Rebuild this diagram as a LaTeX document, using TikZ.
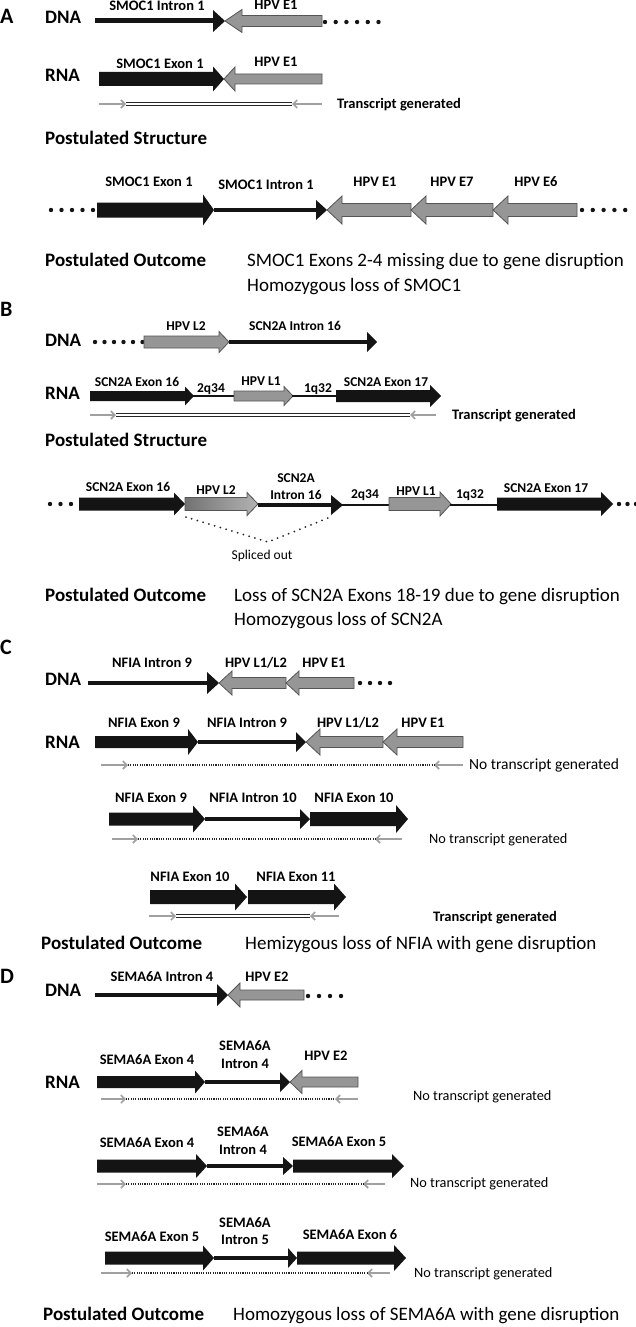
\documentclass[tikz,border=0pt]{standalone}
\usepackage{fontspec}
\setmainfont{Carlito}
\usetikzlibrary{arrows.meta}
\definecolor{hpv}{RGB}{150,150,150}
\definecolor{hpvline}{RGB}{85,85,85}
\definecolor{tgray}{RGB}{160,160,160}
\newcommand{\RArr}[7]{\filldraw[#1] (#2,#4-#5) -- (#3-#7,#4-#5) -- (#3-#7,#4-#6) -- (#3,#4) -- (#3-#7,#4+#6) -- (#3-#7,#4+#5) -- (#2,#4+#5) -- cycle;}
\newcommand{\LArr}[7]{\filldraw[#1] (#2,#4) -- (#2+#7,#4-#6) -- (#2+#7,#4-#5) -- (#3,#4-#5) -- (#3,#4+#5) -- (#2+#7,#4+#5) -- (#2+#7,#4+#6) -- cycle;}
\newcommand{\Intr}[5]{\draw[intron] (#1,#3) -- (#2-#5+0.5,#3); \fill[black!92] (#2-#5,#3-#4) -- (#2,#3) -- (#2-#5,#3+#4) -- cycle;}
\newcommand{\Dots}[4]{\foreach \i in {0,...,#3} {\fill[black!92] (#1+\i*#2,#4) circle (2.2);}}
\newcommand{\Tr}[6]{\draw[tarr] (#1,#5) -- (#2,#5); \draw[tarr] (#4,#5) -- (#3,#5); \draw[#6] (#2,#5) -- (#3,#5);}
\begin{document}
\begin{tikzpicture}[x=1pt,y=-1pt,
 blk/.style={fill=black!92, draw=none},
 hpvs/.style={fill=hpv, draw=hpvline, line width=0.8pt},
 intron/.style={line width=4.5pt, black!92},
 thinl/.style={line width=2pt, black!92},
 tarr/.style={tgray, line width=1.6pt, -{Straight Barb[length=4pt,width=8pt]}},
 dbl/.style={draw=black!85, line width=1.3pt, double=white, double distance=1.6pt},
 dotl/.style={draw=black!85, line width=2pt, dash pattern=on 1.1pt off 1.2pt},
 splice/.style={draw=black!85, line width=2pt, dash pattern=on 0pt off 6pt, line cap=round},
 lab/.style={font=\bfseries\fontsize{14.5}{17}\selectfont, inner sep=0pt, text height=9.2pt, text depth=0pt},
 labs/.style={font=\bfseries\fontsize{13.5}{16}\selectfont, inner sep=0pt, text height=8.6pt, text depth=0pt},
 headt/.style={font=\bfseries\fontsize{19}{23}\selectfont, inner sep=0pt, anchor=west, text height=12pt, text depth=0pt},
 outc/.style={font=\fontsize{19}{23}\selectfont, inner sep=0pt, anchor=west, text height=12pt, text depth=0pt},
 plet/.style={font=\bfseries\fontsize{22}{26}\selectfont, inner sep=0pt, anchor=west, text height=14pt, text depth=0pt},
 ntxt/.style={font=\fontsize{14.3}{17}\selectfont, inner sep=0pt, anchor=west, text height=9.1pt, text depth=0pt},
 ntxtb/.style={font=\bfseries\fontsize{14.5}{17}\selectfont, inner sep=0pt, anchor=west, text height=9.2pt, text depth=0pt}
]
\useasboundingbox (0,0) rectangle (636,1327);
\fill[white] (0,0) rectangle (636,1327);

% ================= Panel A =================
\node[plet] (pA) at (0,17) {A};
\node[headt] (dnaA) at (45,18) {DNA};
\draw[intron, line width=5pt] (95,21) -- (214,21);
\fill[black!92] (213,10) -- (225,21) -- (213,32) -- cycle;
\LArr{hpvs}{225}{322}{21}{5.5}{11.5}{17}
\Dots{325}{10.7}{5}{22}
\node[lab] (a1) at (157,6) {SMOC1 Intron 1};
\node[lab] (a2) at (276,5) {HPV E1};

\node[headt] (rnaA) at (45,76) {RNA};
\RArr{blk}{99}{224}{79}{7}{12.5}{11}
\LArr{hpvs}{224}{322}{79}{5}{12}{11}
\node[lab] (a3) at (160,64) {SMOC1 Exon 1};
\node[lab] (a4) at (276,62) {HPV E1};
\Tr{99}{126}{292}{322}{104}{dbl}
\node[ntxtb] (a5) at (337,104) {Transcript generated};
\node[headt] (psA) at (45,138) {Postulated Structure};

\Dots{51}{10.5}{4}{210}
\RArr{blk}{97}{214}{210}{7.5}{15.5}{11}
\Intr{214}{327}{210}{10}{11}
\LArr{hpvs}{327}{411}{210}{6.5}{14}{15}
\LArr{hpvs}{411}{493}{210}{6.5}{14}{15}
\LArr{hpvs}{493}{577}{210}{6.5}{14}{15}
\Dots{582}{10.8}{4}{210}
\node[lab] (a6) at (149,182) {SMOC1 Exon 1};
\node[lab] (a7) at (266,185) {SMOC1 Intron 1};
\node[lab] (a8) at (375,182) {HPV E1};
\node[lab] (a9) at (452,182) {HPV E7};
\node[lab] (a10) at (536,182) {HPV E6};
\node[headt] (poA) at (45,260) {Postulated Outcome};
\node[outc] (oA1) at (247,260) {SMOC1 Exons 2-4 missing due to gene disruption};
\node[outc] (oA2) at (247,285) {Homozygous loss of SMOC1};

% ================= Panel B =================
\node[plet] (pB) at (0,309) {B};
\node[headt] (dnaB) at (45,340) {DNA};
\Dots{95}{9.5}{5}{342}
\RArr{hpvs}{144}{229}{342}{6}{10.5}{10}
\Intr{229}{377}{342}{10}{10}
\node[labs] (b1) at (186,326) {HPV L2};
\node[labs] (b2) at (295,326) {SCN2A Intron 16};

\node[headt] (rnaB) at (45,393) {RNA};
\RArr{blk}{90}{194}{396}{5}{9.5}{9}
\draw[thinl] (193,396) -- (235,396);
\RArr{hpvs}{234}{293}{396}{5}{9.5}{9}
\draw[thinl] (292,396) -- (337,396);
\RArr{blk}{336}{441}{396}{6}{11}{11}
\node[labs] (b3) at (137,382) {SCN2A Exon 16};
\node[labs] (b4) at (211,388) {2q34};
\node[labs] (b5) at (261,381) {HPV L1};
\node[labs] (b6) at (318,388) {1q32};
\node[labs] (b7) at (386,382) {SCN2A Exon 17};
\Tr{90}{116}{410}{436}{415}{dbl}
\node[ntxtb] (b8) at (452,415) {Transcript generated};
\node[headt] (psB) at (45,440) {Postulated Structure};

\Dots{50}{10.5}{2}{504}
\RArr{blk}{79}{185}{504}{6.5}{11.5}{11}
\RArr{draw=hpvline, line width=0.8pt, left color=black!55, right color=black!30}{185}{258}{504}{6.5}{11.5}{11}
\Intr{258}{343}{505}{10}{12}
\draw[thinl] (342,505) -- (390,505);
\RArr{hpvs}{389}{451}{504}{6.5}{12}{11}
\draw[thinl] (450,505) -- (498,505);
\RArr{blk}{497}{613}{504}{6.5}{12}{12}
\Dots{619}{8.5}{2}{504}
\draw[splice] (186,517) -- (268,542) -- (333,516);
\node[font=\fontsize{13.5}{16}\selectfont, inner sep=0pt] (b9) at (262,556) {Spliced out};
\node[labs] (b10) at (128,487) {SCN2A Exon 16};
\node[labs] (b11) at (216,490) {HPV L2};
\node[labs] (b12) at (296,478) {SCN2A};
\node[labs] (b13) at (296,495) {Intron 16};
\node[labs] (b14) at (365,494) {2q34};
\node[labs] (b15) at (416,491) {HPV L1};
\node[labs] (b16) at (470,494) {1q32};
\node[labs] (b17) at (546,488) {SCN2A Exon 17};
\node[headt] (poB) at (45,595) {Postulated Outcome};
\node[outc] (oB1) at (234,595) {Loss of SCN2A Exons 18-19 due to gene disruption};
\node[outc] (oB2) at (234,619) {Homozygous loss of SCN2A};

% ================= Panel C =================
\node[plet] (pC) at (0,647) {C};
\node[headt] (dnaC) at (45,679) {DNA};
\Intr{88}{219}{683}{11}{12}
\LArr{hpvs}{219}{286}{683}{5.5}{12}{13}
\LArr{hpvs}{286}{354}{683}{5.5}{12}{13}
\Dots{360}{10}{3}{683}
\node[lab] (c1) at (152,663) {NFIA Intron 9};
\node[lab] (c2) at (256,663) {HPV L1/L2};
\node[lab] (c3) at (324,663) {HPV E1};

\node[headt] (rnaC) at (45,742) {RNA};
\RArr{blk}{95}{198}{742}{6}{13}{10}
\Intr{198}{306}{742}{10}{10}
\LArr{hpvs}{306}{383}{742}{5.5}{13}{14}
\LArr{hpvs}{383}{463}{742}{5.5}{13}{14}
\node[lab] (c4) at (144,723) {NFIA Exon 9};
\node[lab] (c5) at (247,723) {NFIA Intron 9};
\node[lab] (c6) at (348,723) {HPV L1/L2};
\node[lab] (c7) at (423,723) {HPV E1};
\Tr{101}{128}{434}{463}{765}{dotl}
\node[ntxt, font=\fontsize{15.5}{18}\selectfont] (c8) at (469,765) {No transcript generated};

\RArr{blk}{109}{205}{819}{6.5}{13.5}{12}
\Intr{205}{310}{819}{10}{10}
\RArr{blk}{310}{408}{819}{7}{14}{12}
\node[lab] (c9) at (151,798) {NFIA Exon 9};
\node[lab] (c10) at (253,798) {NFIA Intron 10};
\node[lab] (c11) at (354,798) {NFIA Exon 10};
\Tr{112}{138}{375}{402}{839}{dotl}
\node[ntxt] (c12) at (429,839) {No transcript generated};

\RArr{blk}{150}{247}{897}{7}{13.5}{12}
\RArr{blk}{248}{346}{897}{7}{13.5}{12}
\node[lab] (c13) at (190,877) {NFIA Exon 10};
\node[lab] (c14) at (296,877) {NFIA Exon 11};
\Tr{149}{176}{310}{339}{916}{dbl}
\node[ntxtb] (c15) at (433,917) {Transcript generated};
\node[headt] (poC) at (41,943) {Postulated Outcome};
\node[outc] (oC1) at (245,943) {Hemizygous loss of NFIA with gene disruption};

% ================= Panel D =================
\node[plet] (pD) at (0,976) {D};
\node[headt] (dnaD) at (45,990) {DNA};
\Intr{95}{228}{995}{11}{11}
\LArr{hpvs}{228}{304}{995}{5}{12}{12}
\Dots{308}{11}{3}{996}
\node[lab] (d1) at (162,977) {SEMA6A Intron 4};
\node[lab] (d2) at (267,977) {HPV E2};

\node[headt] (rnaD) at (45,1082) {RNA};
\RArr{blk}{97}{205}{1082}{6}{11.5}{10}
\Intr{205}{290}{1082}{10}{10}
\LArr{hpvs}{290}{358}{1082}{5}{11.5}{12}
\node[lab] (d3) at (147,1060) {SEMA6A Exon 4};
\node[lab] (d4) at (245,1046) {SEMA6A};
\node[lab] (d5) at (245,1064) {Intron 4};
\node[lab] (d6) at (326,1056) {HPV E2};
\Tr{101}{126}{335}{358}{1099}{dotl}
\node[ntxt] (d7) at (413,1096) {No transcript generated};

\RArr{blk}{97}{207}{1166}{6.5}{12}{11}
\Intr{207}{293}{1166}{9}{10}
\RArr{blk}{293}{404}{1166}{6.5}{12}{12}
\node[lab] (d8) at (147,1143) {SEMA6A Exon 4};
\node[lab] (d9) at (243,1132) {SEMA6A};
\node[lab] (d10) at (243,1150) {Intron 4};
\node[lab] (d11) at (339,1142) {SEMA6A Exon 5};
\Tr{97}{126}{363}{385}{1184}{dotl}
\node[ntxt] (d12) at (410,1183) {No transcript generated};

\RArr{blk}{105}{214}{1258}{6.5}{12.5}{11}
\Intr{214}{297}{1258}{10}{9}
\RArr{blk}{297}{406}{1258}{6.5}{13}{12}
\node[lab] (d13) at (152,1237) {SEMA6A Exon 5};
\node[lab] (d14) at (245,1223) {SEMA6A};
\node[lab] (d15) at (245,1240) {Intron 5};
\node[lab] (d16) at (350,1235) {SEMA6A Exon 6};
\Tr{101}{132}{367}{390}{1273}{dotl}
\node[ntxt] (d17) at (414,1273) {No transcript generated};
\node[headt] (poD) at (43,1314) {Postulated Outcome};
\node[outc] (oD1) at (233,1314) {Homozygous loss of SEMA6A with gene disruption};
\end{tikzpicture}
\end{document}
